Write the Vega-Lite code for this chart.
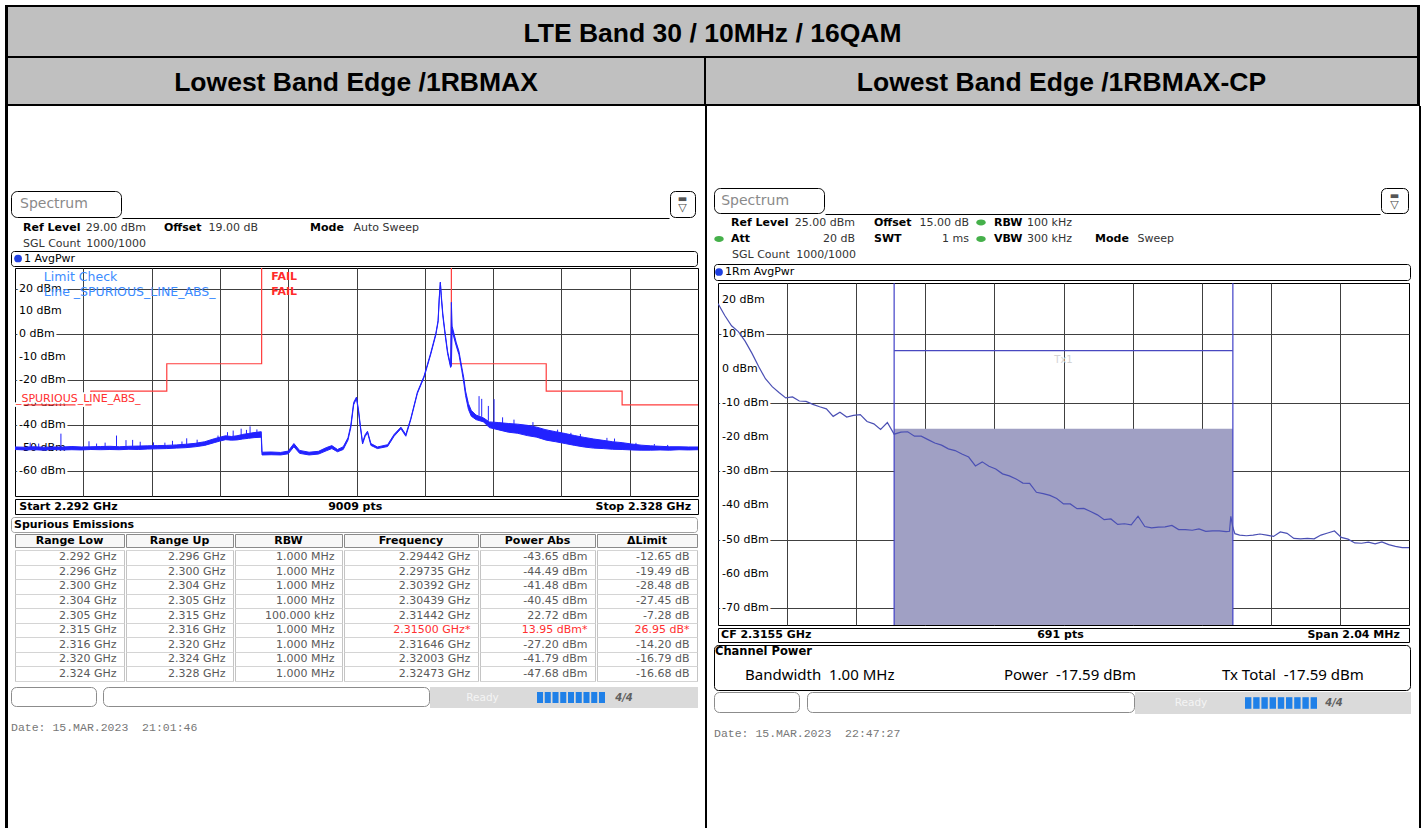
{
"$schema": "https://vega.github.io/schema/vega-lite/v6.json",
"padding": {"left": 5, "top": 5, "right": 0, "bottom": 0},
"background": "#ffffff",
"config": {"view": {"stroke": null}, "concat": {"spacing": 0}, "text": {"font": "DejaVu Sans", "fontSize": 11, "color": "#000000"}},
"datasets": {
"none": [],
"one": [{}],
"seg": [{"s":1},{"s":2},{"s":3},{"s":4},{"s":5},{"s":6},{"s":7},{"s":8},{"s":9}],
"spur": [
{"low":"2.292 GHz","up":"2.296 GHz","rbw":"1.000 MHz","freq":"2.29442 GHz","pwr":"-43.65 dBm","dlim":"-12.65 dB","d":-12.65},
{"low":"2.296 GHz","up":"2.300 GHz","rbw":"1.000 MHz","freq":"2.29735 GHz","pwr":"-44.49 dBm","dlim":"-19.49 dB","d":-19.49},
{"low":"2.300 GHz","up":"2.304 GHz","rbw":"1.000 MHz","freq":"2.30392 GHz","pwr":"-41.48 dBm","dlim":"-28.48 dB","d":-28.48},
{"low":"2.304 GHz","up":"2.305 GHz","rbw":"1.000 MHz","freq":"2.30439 GHz","pwr":"-40.45 dBm","dlim":"-27.45 dB","d":-27.45},
{"low":"2.305 GHz","up":"2.315 GHz","rbw":"100.000 kHz","freq":"2.31442 GHz","pwr":"22.72 dBm","dlim":"-7.28 dB","d":-7.28},
{"low":"2.315 GHz","up":"2.316 GHz","rbw":"1.000 MHz","freq":"2.31500 GHz*","pwr":"13.95 dBm*","dlim":"26.95 dB*","d":26.95},
{"low":"2.316 GHz","up":"2.320 GHz","rbw":"1.000 MHz","freq":"2.31646 GHz","pwr":"-27.20 dBm","dlim":"-14.20 dB","d":-14.20},
{"low":"2.320 GHz","up":"2.324 GHz","rbw":"1.000 MHz","freq":"2.32003 GHz","pwr":"-41.79 dBm","dlim":"-16.79 dB","d":-16.79},
{"low":"2.324 GHz","up":"2.328 GHz","rbw":"1.000 MHz","freq":"2.32473 GHz","pwr":"-47.68 dBm","dlim":"-16.68 dB","d":-16.68}
],
"limL": [{"f":2292,"lim":-31},{"f":2296,"lim":-25},{"f":2300,"lim":-13},{"f":2305,"lim":30},{"f":2315,"lim":-13},{"f":2320,"lim":-25},{"f":2324,"lim":-31},{"f":2328,"lim":-31}],
"lvlL": [{"lvl":20,"txt":"20 dBm"},{"lvl":10,"txt":"10 dBm"},{"lvl":0,"txt":"0 dBm"},{"lvl":-10,"txt":"-10 dBm"},{"lvl":-20,"txt":"-20 dBm"},{"lvl":-30,"txt":"-30 dBm"},{"lvl":-40,"txt":"-40 dBm"},{"lvl":-50,"txt":"-50 dBm"},{"lvl":-60,"txt":"-60 dBm"}],
"lvlR": [{"lvl":20,"txt":"20 dBm"},{"lvl":10,"txt":"10 dBm"},{"lvl":0,"txt":"0 dBm"},{"lvl":-10,"txt":"-10 dBm"},{"lvl":-20,"txt":"-20 dBm"},{"lvl":-30,"txt":"-30 dBm"},{"lvl":-40,"txt":"-40 dBm"},{"lvl":-50,"txt":"-50 dBm"},{"lvl":-60,"txt":"-60 dBm"},{"lvl":-70,"txt":"-70 dBm"}],
"traceL": [
{"f":2292.0,"lo":-50.6,"hi":-49.5},{"f":2292.5,"lo":-50.8,"hi":-49.6},{"f":2293.0,"lo":-50.7,"hi":-49.4},{"f":2293.5,"lo":-50.9,"hi":-49.6},
{"f":2294.0,"lo":-50.6,"hi":-49.5},{"f":2294.5,"lo":-50.8,"hi":-49.5},{"f":2295.0,"lo":-50.7,"hi":-49.3},{"f":2295.5,"lo":-50.8,"hi":-49.5},
{"f":2296.0,"lo":-50.6,"hi":-49.4},{"f":2296.5,"lo":-50.7,"hi":-49.3},{"f":2297.0,"lo":-50.6,"hi":-49.2},{"f":2297.5,"lo":-50.7,"hi":-49.4},
{"f":2298.0,"lo":-50.5,"hi":-49.2},{"f":2298.5,"lo":-50.6,"hi":-49.1},{"f":2299.0,"lo":-50.4,"hi":-49.0},{"f":2299.5,"lo":-50.3,"hi":-48.9},
{"f":2300.0,"lo":-50.2,"hi":-48.8},{"f":2300.5,"lo":-50.0,"hi":-48.6},{"f":2301.0,"lo":-49.8,"hi":-48.3},{"f":2301.5,"lo":-49.4,"hi":-47.9},
{"f":2302.0,"lo":-48.8,"hi":-47.2},{"f":2302.5,"lo":-47.6,"hi":-45.9},{"f":2302.8,"lo":-46.9,"hi":-45.2},{"f":2303.1,"lo":-46.3,"hi":-44.6},
{"f":2303.4,"lo":-46.5,"hi":-44.9},{"f":2303.7,"lo":-46.4,"hi":-44.6},{"f":2304.0,"lo":-46.0,"hi":-44.0},{"f":2304.3,"lo":-45.7,"hi":-43.6},
{"f":2304.6,"lo":-45.4,"hi":-43.2},{"f":2304.98,"lo":-45.2,"hi":-42.8},{"f":2305.02,"lo":-53.0,"hi":-51.8},{"f":2305.5,"lo":-52.9,"hi":-51.7},
{"f":2306.0,"lo":-53.0,"hi":-51.9},{"f":2306.4,"lo":-52.5,"hi":-51.3},{"f":2306.7,"lo":-49.4,"hi":-48.0},{"f":2307.0,"lo":-52.3,"hi":-51.0},
{"f":2307.5,"lo":-53.0,"hi":-51.8},{"f":2308.0,"lo":-52.6,"hi":-51.4},{"f":2308.4,"lo":-51.2,"hi":-49.8},{"f":2308.7,"lo":-50.2,"hi":-48.9},
{"f":2309.0,"lo":-51.6,"hi":-50.6},{"f":2309.3,"lo":-50.6,"hi":-49.4},{"f":2309.55,"lo":-46.5,"hi":-45.5},{"f":2309.7,"lo":-41.0,"hi":-40.0},
{"f":2309.85,"lo":-31.0,"hi":-30.0},{"f":2310.0,"lo":-28.2,"hi":-27.6},{"f":2310.12,"lo":-35.0,"hi":-34.0},{"f":2310.2,"lo":-40.5,"hi":-40.0},
{"f":2310.32,"lo":-48.2,"hi":-47.5},{"f":2310.45,"lo":-45.0,"hi":-44.2},{"f":2310.58,"lo":-43.2,"hi":-42.6},{"f":2310.76,"lo":-48.8,"hi":-48.0},
{"f":2311.1,"lo":-50.2,"hi":-49.5},{"f":2311.64,"lo":-49.3,"hi":-48.5},{"f":2311.98,"lo":-44.8,"hi":-44.0},{"f":2312.34,"lo":-41.5,"hi":-40.8},
{"f":2312.6,"lo":-44.8,"hi":-44.0},{"f":2312.86,"lo":-37.6,"hi":-37.0},{"f":2313.21,"lo":-26.0,"hi":-25.4},{"f":2313.56,"lo":-19.0,"hi":-18.4},
{"f":2313.91,"lo":-9.0,"hi":-8.3},{"f":2314.18,"lo":-0.4,"hi":0.3},{"f":2314.3,"lo":5.3,"hi":6.0},{"f":2314.36,"lo":15.0,"hi":16.0},
{"f":2314.42,"lo":22.72,"hi":22.72},{"f":2314.47,"lo":16.0,"hi":17.0},{"f":2314.55,"lo":8.0,"hi":9.0},{"f":2314.65,"lo":1.0,"hi":2.0},
{"f":2314.8,"lo":-8.5,"hi":-7.5},{"f":2314.96,"lo":-14.6,"hi":-13.8},{"f":2315.0,"lo":-14.0,"hi":13.95},{"f":2315.04,"lo":1.5,"hi":3.5},
{"f":2315.25,"lo":-5.0,"hi":-3.5},{"f":2315.4,"lo":-9.0,"hi":-7.5},{"f":2315.55,"lo":-16.0,"hi":-14.5},{"f":2315.65,"lo":-21.0,"hi":-19.0},
{"f":2315.75,"lo":-27.0,"hi":-25.0},{"f":2315.9,"lo":-33.0,"hi":-30.5},{"f":2316.05,"lo":-36.0,"hi":-33.5},{"f":2316.3,"lo":-37.5,"hi":-35.5},
{"f":2316.7,"lo":-38.5,"hi":-36.8},{"f":2317.0,"lo":-41.0,"hi":-38.5},{"f":2317.5,"lo":-42.0,"hi":-38.8},{"f":2318.0,"lo":-43.0,"hi":-39.2},
{"f":2318.5,"lo":-43.5,"hi":-39.5},{"f":2319.0,"lo":-44.5,"hi":-40.0},{"f":2319.5,"lo":-45.2,"hi":-40.8},{"f":2320.0,"lo":-46.5,"hi":-42.0},
{"f":2320.5,"lo":-47.2,"hi":-42.8},{"f":2321.0,"lo":-48.0,"hi":-43.6},{"f":2321.5,"lo":-48.8,"hi":-44.5},{"f":2322.0,"lo":-49.5,"hi":-45.3},
{"f":2322.5,"lo":-50.0,"hi":-46.0},{"f":2323.0,"lo":-50.2,"hi":-46.6},{"f":2323.5,"lo":-50.5,"hi":-47.2},{"f":2324.0,"lo":-50.6,"hi":-47.6},
{"f":2324.5,"lo":-50.8,"hi":-48.2},{"f":2325.0,"lo":-50.9,"hi":-48.7},{"f":2325.5,"lo":-50.9,"hi":-49.0},{"f":2326.0,"lo":-50.8,"hi":-49.2},
{"f":2326.5,"lo":-50.9,"hi":-49.4},{"f":2327.0,"lo":-50.7,"hi":-49.4},{"f":2327.5,"lo":-50.8,"hi":-49.5},{"f":2328.0,"lo":-50.7,"hi":-49.5}
],
"spikesL": [
{"f":2292.8,"peak":-47.6,"base":-49.5},{"f":2293.25,"peak":-48.0,"base":-49.5},{"f":2294.42,"peak":-43.65,"base":-49.5},{"f":2295.9,"peak":-47.0,"base":-49.4},
{"f":2296.3,"peak":-48.0,"base":-49.4},{"f":2296.75,"peak":-47.6,"base":-49.3},{"f":2297.35,"peak":-44.49,"base":-49.3},{"f":2297.85,"peak":-46.5,"base":-49.3},
{"f":2298.2,"peak":-46.4,"base":-49.2},{"f":2298.6,"peak":-47.2,"base":-49.1},{"f":2299.3,"peak":-47.5,"base":-49.0},{"f":2299.9,"peak":-47.6,"base":-48.9},
{"f":2300.3,"peak":-46.8,"base":-48.7},{"f":2300.8,"peak":-47.1,"base":-48.5},{"f":2301.05,"peak":-45.7,"base":-48.3},{"f":2301.6,"peak":-46.3,"base":-47.8},
{"f":2302.7,"peak":-44.5,"base":-45.5},{"f":2303.2,"peak":-43.0,"base":-44.6},{"f":2303.5,"peak":-42.3,"base":-44.8},{"f":2303.92,"peak":-41.48,"base":-44.2},
{"f":2304.2,"peak":-42.0,"base":-43.8},{"f":2304.39,"peak":-40.45,"base":-43.5},{"f":2304.75,"peak":-41.8,"base":-43.1},
{"f":2316.46,"peak":-27.2,"base":-35.8},{"f":2316.6,"peak":-28.4,"base":-36.3},{"f":2316.95,"peak":-31.5,"base":-38.0},{"f":2317.25,"peak":-28.5,"base":-38.6},
{"f":2317.7,"peak":-36.5,"base":-39.0},{"f":2318.3,"peak":-37.5,"base":-39.4},{"f":2319.3,"peak":-38.6,"base":-40.4},{"f":2320.03,"peak":-41.79,"base":-42.0},
{"f":2320.6,"peak":-41.9,"base":-43.0},{"f":2321.3,"peak":-43.3,"base":-44.2},{"f":2321.8,"peak":-43.8,"base":-45.0},{"f":2323.2,"peak":-45.5,"base":-46.8},
{"f":2323.6,"peak":-45.8,"base":-47.2},{"f":2324.73,"peak":-47.68,"base":-48.4},{"f":2325.7,"peak":-48.2,"base":-49.0},{"f":2326.4,"peak":-48.6,"base":-49.4}
],
"traceR": [
{"f":2314.48,"p":19},{"f":2314.5,"p":15.5},{"f":2314.52,"p":12.5},{"f":2314.54,"p":10.8},{"f":2314.56,"p":8},{"f":2314.58,"p":4.5},{"f":2314.6,"p":0.6},
{"f":2314.62,"p":-3},{"f":2314.64,"p":-5.3},{"f":2314.66,"p":-7},{"f":2314.68,"p":-8.6},{"f":2314.7,"p":-8.3},{"f":2314.72,"p":-9.5},{"f":2314.74,"p":-9.6},
{"f":2314.76,"p":-10.5},{"f":2314.78,"p":-11.2},{"f":2314.8,"p":-11.8},{"f":2314.82,"p":-14},{"f":2314.84,"p":-12.8},{"f":2314.86,"p":-14.2},{"f":2314.88,"p":-13.7},
{"f":2314.9,"p":-13.5},{"f":2314.92,"p":-15.5},{"f":2314.94,"p":-16.2},{"f":2314.96,"p":-17.8},{"f":2314.98,"p":-15.8},{"f":2315.0,"p":-19.2},{"f":2315.02,"p":-18.6},
{"f":2315.04,"p":-18.5},{"f":2315.06,"p":-19.8},{"f":2315.08,"p":-19.8},{"f":2315.1,"p":-20.8},{"f":2315.12,"p":-21.8},{"f":2315.14,"p":-22.4},{"f":2315.16,"p":-23.5},
{"f":2315.18,"p":-24},{"f":2315.2,"p":-25},{"f":2315.22,"p":-25.9},{"f":2315.24,"p":-28.5},{"f":2315.26,"p":-27.3},{"f":2315.28,"p":-28.6},{"f":2315.3,"p":-29.4},
{"f":2315.32,"p":-30.8},{"f":2315.34,"p":-31.4},{"f":2315.36,"p":-32.3},{"f":2315.38,"p":-33.5},{"f":2315.4,"p":-33.6},{"f":2315.42,"p":-36.2},{"f":2315.44,"p":-36.6},
{"f":2315.46,"p":-37.1},{"f":2315.48,"p":-38},{"f":2315.5,"p":-39.6},{"f":2315.52,"p":-39.6},{"f":2315.54,"p":-41},{"f":2315.56,"p":-40.9},{"f":2315.58,"p":-41.8},
{"f":2315.6,"p":-42.8},{"f":2315.62,"p":-44.2},{"f":2315.64,"p":-44},{"f":2315.66,"p":-45.6},{"f":2315.68,"p":-45.4},{"f":2315.7,"p":-45.7},{"f":2315.72,"p":-43.2},
{"f":2315.74,"p":-46.2},{"f":2315.76,"p":-46.6},{"f":2315.78,"p":-46.4},{"f":2315.8,"p":-46.3},{"f":2315.82,"p":-45.9},{"f":2315.84,"p":-47.1},{"f":2315.86,"p":-47.1},
{"f":2315.88,"p":-47.3},{"f":2315.9,"p":-46.9},{"f":2315.92,"p":-47.6},{"f":2315.94,"p":-47.5},{"f":2315.96,"p":-47.5},{"f":2315.98,"p":-47.7},{"f":2315.99,"p":-47.6},
{"f":2315.994,"p":-43.2},{"f":2316.0,"p":-46.5},{"f":2316.006,"p":-48.3},{"f":2316.02,"p":-48.7},{"f":2316.04,"p":-48.9},{"f":2316.06,"p":-48.7},{"f":2316.08,"p":-48.4},
{"f":2316.1,"p":-48.7},{"f":2316.12,"p":-49.1},{"f":2316.14,"p":-47.8},{"f":2316.16,"p":-48.2},{"f":2316.18,"p":-49.7},{"f":2316.2,"p":-49.8},{"f":2316.22,"p":-49.7},
{"f":2316.24,"p":-49.8},{"f":2316.26,"p":-48.7},{"f":2316.28,"p":-48.1},{"f":2316.3,"p":-47.5},{"f":2316.32,"p":-49.4},{"f":2316.34,"p":-49.9},{"f":2316.36,"p":-51},
{"f":2316.38,"p":-51.1},{"f":2316.4,"p":-50.8},{"f":2316.42,"p":-51.3},{"f":2316.44,"p":-50.7},{"f":2316.46,"p":-51.5},{"f":2316.48,"p":-52},{"f":2316.5,"p":-52.4},
{"f":2316.52,"p":-52.4}
],
"chan": [{"lo":2315.0,"hi":2316.0,"power":-17.59}],
"cp": [
{"line":"title","k":"title","t":"Channel Power"},
{"line":"vals","k":"bw","t":"Bandwidth\u00a0\u00a01.00 MHz"},
{"line":"vals","k":"pw","t":"Power\u00a0\u00a0-17.59 dBm"},
{"line":"vals","k":"tx","t":"Tx Total\u00a0\u00a0-17.59 dBm"}
]
},
"spacing": 0,
"vconcat": [
{"width":1415,"height":2,"data":{"name":"none"},"view":{"fill":"#000"},"mark":{"type":"text","text":""}},
{"spacing":0,"hconcat":[
 {"width":3,"height":49,"data":{"name":"none"},"view":{"fill":"#000"},"mark":{"type":"text","text":""}},
 {"width":1409,"height":49,"view":{"fill":"#c0c0c0"},"data":{"values":[{"t":"LTE Band 30 / 10MHz / 16QAM"}]},"mark":{"type":"text","font":"Liberation Sans","fontSize":26.5,"fontWeight":"bold","dy":2},"encoding":{"text":{"field":"t"}}},
 {"width":3,"height":49,"data":{"name":"none"},"view":{"fill":"#000"},"mark":{"type":"text","text":""}}
]},
{"width":1415,"height":2,"data":{"name":"none"},"view":{"fill":"#000"},"mark":{"type":"text","text":""}},
{"spacing":0,"hconcat":[
 {"width":3,"height":46,"data":{"name":"none"},"view":{"fill":"#000"},"mark":{"type":"text","text":""}},
 {"width":696,"height":46,"view":{"fill":"#c0c0c0"},"data":{"values":[{"t":"Lowest Band Edge /1RBMAX"}]},"mark":{"type":"text","font":"Liberation Sans","fontSize":26.5,"fontWeight":"bold","dy":2},"encoding":{"text":{"field":"t"}}},
 {"width":2,"height":46,"data":{"name":"none"},"view":{"fill":"#000"},"mark":{"type":"text","text":""}},
 {"width":711,"height":46,"view":{"fill":"#c0c0c0"},"data":{"values":[{"t":"Lowest Band Edge /1RBMAX-CP"}]},"mark":{"type":"text","font":"Liberation Sans","fontSize":26.5,"fontWeight":"bold","dy":2},"encoding":{"text":{"field":"t"}}},
 {"width":3,"height":46,"data":{"name":"none"},"view":{"fill":"#000"},"mark":{"type":"text","text":""}}
]},
{"width":1415,"height":2,"data":{"name":"none"},"view":{"fill":"#000"},"mark":{"type":"text","text":""}},
{"spacing":0,"hconcat":[
 {"width":3,"height":722,"data":{"name":"none"},"view":{"fill":"#000"},"mark":{"type":"text","text":""}},
 {"spacing":0,"hconcat":[
  {"width":2,"height":722,"data":{"name":"none"},"mark":{"type":"text","text":""}},
  {"spacing":0,"vconcat":[
   {"width":688,"height":84,"data":{"name":"none"},"mark":{"type":"text","text":""}},
   {"spacing":0,"hconcat":[
    {"width":110,"height":26,"view":{"stroke":"#000","strokeWidth":1,"cornerRadius":6},"data":{"values":[{"p":"L","t":"Spectrum"}]},"mark":{"type":"text","align":"left","fontSize":14,"color":"#8a8a8a"},"encoding":{"x":{"field":"p","type":"nominal","scale":{"type":"point","domain":["L","R"],"padding":0.0978},"axis":null},"text":{"field":"t"}}},
    {"width":547,"height":27,"data":{"name":"none"},"mark":{"type":"text","text":""},"encoding":{"x":{"datum":0,"type":"quantitative","title":null,"scale":{"domain":[0,1]},"axis":{"orient":"bottom","domain":true,"domainColor":"#000","domainWidth":1,"labels":false,"ticks":false,"grid":false,"title":null}}}},
    {"width":25,"height":26,"data":{"name":"one"},"view":{"stroke":"#000","strokeWidth":1,"cornerRadius":5},"layer":[{"mark":{"type":"text","text":"▽","fontSize":11,"dy":4,"color":"#444"}},{"mark":{"type":"text","text":"▬","fontSize":10,"dy":-5,"color":"#555"}}]}
   ]},
   {"spacing":0,"hconcat":[
    {"width":12,"height":19,"data":{"name":"none"},"mark":{"type":"text","text":""}},
    {"width":123,"height":19,"data":{"values":[{"p":"L","t":"Ref Level"},{"p":"R","t":"29.00 dBm"}]},"encoding":{"x":{"field":"p","type":"nominal","scale":{"type":"point","domain":["L","R"],"padding":0},"axis":null},"text":{"field":"t"}},"layer":[{"transform":[{"filter":"datum.p==='L'"}],"mark":{"type":"text","align":"left","fontWeight":"bold"}},{"transform":[{"filter":"datum.p==='R'"}],"mark":{"type":"text","align":"right","color":"#333"}}]},
    {"width":18,"height":19,"data":{"name":"none"},"mark":{"type":"text","text":""}},
    {"width":94,"height":19,"data":{"values":[{"p":"L","t":"Offset"},{"p":"R","t":"19.00 dB"}]},"encoding":{"x":{"field":"p","type":"nominal","scale":{"type":"point","domain":["L","R"],"padding":0},"axis":null},"text":{"field":"t"}},"layer":[{"transform":[{"filter":"datum.p==='L'"}],"mark":{"type":"text","align":"left","fontWeight":"bold"}},{"transform":[{"filter":"datum.p==='R'"}],"mark":{"type":"text","align":"right","color":"#333"}}]},
    {"width":52,"height":19,"data":{"name":"none"},"mark":{"type":"text","text":""}},
    {"width":109,"height":19,"data":{"values":[{"p":"L","t":"Mode"},{"p":"R","t":"Auto Sweep"}]},"encoding":{"x":{"field":"p","type":"nominal","scale":{"type":"point","domain":["L","R"],"padding":0},"axis":null},"text":{"field":"t"}},"layer":[{"transform":[{"filter":"datum.p==='L'"}],"mark":{"type":"text","align":"left","fontWeight":"bold"}},{"transform":[{"filter":"datum.p==='R'"}],"mark":{"type":"text","align":"right","color":"#333"}}]},
    {"width":280,"height":19,"data":{"name":"none"},"mark":{"type":"text","text":""}}
   ]},
   {"spacing":0,"hconcat":[
    {"width":12,"height":13,"data":{"name":"none"},"mark":{"type":"text","text":""}},
    {"width":123,"height":13,"data":{"values":[{"p":"L","t":"SGL Count"},{"p":"R","t":"1000/1000"}]},"encoding":{"x":{"field":"p","type":"nominal","scale":{"type":"point","domain":["L","R"],"padding":0},"axis":null},"text":{"field":"t"}},"layer":[{"transform":[{"filter":"datum.p==='L'"}],"mark":{"type":"text","align":"left","color":"#333"}},{"transform":[{"filter":"datum.p==='R'"}],"mark":{"type":"text","align":"right","color":"#333"}}]},
    {"width":553,"height":13,"data":{"name":"none"},"mark":{"type":"text","text":""}}
   ]},
   {"width":686,"height":15,"view":{"stroke":"#000","strokeWidth":1,"cornerRadius":3},"data":{"values":[{"p":"L","t":"1 AvgPwr"}]},"encoding":{"x":{"field":"p","type":"nominal","scale":{"type":"point","domain":["L","R"],"padding":0.0105},"axis":null}},"layer":[{"mark":{"type":"point","shape":"circle","size":60,"color":"#1f3fe0","filled":true,"opacity":1}},{"mark":{"type":"text","align":"left","dx":6},"encoding":{"text":{"field":"t"}}}]},
   {"spacing":0,"hconcat":[
    {"width":3,"height":230,"data":{"name":"none"},"mark":{"type":"text","text":""}},
    {"width":683,"height":228,"view":{"stroke":"#000","strokeWidth":1},"layer":[
     {"data":{"name":"lvlL"},"mark":{"type":"text","align":"left","dx":4,"stroke":"#fff","strokeWidth":5,"strokeJoin":"round","color":"#fff"},"encoding":{"x":{"datum":2292,"type":"quantitative","title":null,"scale":{"domain":[2292,2328],"nice":false,"zero":false}},"y":{"field":"lvl","type":"quantitative","title":null,"scale":{"domain":[-71,29],"nice":false,"zero":false}},"text":{"field":"txt"}}},
     {"data":{"name":"lvlL"},"mark":{"type":"text","align":"left","dx":4,"color":"#000"},"encoding":{"x":{"datum":2292,"type":"quantitative","title":null,"scale":{"domain":[2292,2328],"nice":false,"zero":false}},"y":{"field":"lvl","type":"quantitative","title":null,"scale":{"domain":[-71,29],"nice":false,"zero":false}},"text":{"field":"txt"}}},
     {"data":{"name":"limL"},"mark":{"type":"line","interpolate":"step-after","color":"#ff3c3c","strokeWidth":1.2,"clip":true},"encoding":{"x":{"field":"f","type":"quantitative","title":null,"scale":{"domain":[2292,2328],"nice":false,"zero":false}},"y":{"field":"lim","type":"quantitative","title":null,"scale":{"domain":[-71,29],"nice":false,"zero":false}}}},
     {"data":{"name":"one"},"mark":{"type":"text","align":"left","stroke":"#fff","strokeWidth":4,"strokeJoin":"round","color":"#fff","text":"_SPURIOUS_LINE_ABS_"},"encoding":{"x":{"datum":2292.05,"type":"quantitative","title":null,"scale":{"domain":[2292,2328],"nice":false,"zero":false}},"y":{"datum":-28.4,"type":"quantitative","title":null,"scale":{"domain":[-71,29],"nice":false,"zero":false}}}},
     {"data":{"name":"one"},"mark":{"type":"text","align":"left","color":"#ff3030","text":"_SPURIOUS_LINE_ABS_"},"encoding":{"x":{"datum":2292.05,"type":"quantitative","title":null,"scale":{"domain":[2292,2328],"nice":false,"zero":false}},"y":{"datum":-28.4,"type":"quantitative","title":null,"scale":{"domain":[-71,29],"nice":false,"zero":false}}}},
     {"data":{"name":"traceL"},"mark":{"type":"area","color":"#2222ff","clip":true},"encoding":{"x":{"field":"f","type":"quantitative","title":null,"scale":{"domain":[2292,2328],"nice":false,"zero":false},"axis":{"values":[2295.6,2299.2,2302.8,2306.4,2310,2313.6,2317.2,2320.8,2324.4],"grid":true,"gridColor":"#404040","gridWidth":1,"labels":false,"ticks":false,"domain":false,"title":null}},"y":{"field":"hi","type":"quantitative","title":null,"scale":{"domain":[-71,29],"nice":false,"zero":false},"axis":{"values":[-60,-50,-40,-30,-20,-10,0,10,20],"grid":true,"gridColor":"#404040","gridWidth":1,"labels":false,"ticks":false,"domain":false,"title":null}},"y2":{"field":"lo"}}},
     {"data":{"name":"traceL"},"mark":{"type":"line","color":"#2222ff","strokeWidth":1,"clip":true},"encoding":{"x":{"field":"f","type":"quantitative","title":null,"scale":{"domain":[2292,2328],"nice":false,"zero":false}},"y":{"field":"hi","type":"quantitative","title":null,"scale":{"domain":[-71,29],"nice":false,"zero":false}}}},
     {"data":{"name":"traceL"},"mark":{"type":"line","color":"#2222ff","strokeWidth":1,"clip":true},"encoding":{"x":{"field":"f","type":"quantitative","title":null,"scale":{"domain":[2292,2328],"nice":false,"zero":false}},"y":{"field":"lo","type":"quantitative","title":null,"scale":{"domain":[-71,29],"nice":false,"zero":false}}}},
     {"data":{"name":"spikesL"},"mark":{"type":"rule","color":"#2222ff","strokeWidth":1,"clip":true},"encoding":{"x":{"field":"f","type":"quantitative","title":null,"scale":{"domain":[2292,2328],"nice":false,"zero":false}},"y":{"field":"peak","type":"quantitative","title":null,"scale":{"domain":[-71,29],"nice":false,"zero":false}},"y2":{"field":"base"}}},
     {"data":{"name":"one"},"mark":{"type":"text","align":"left","color":"#3c8cff","fontSize":12.5,"text":"Limit Check"},"encoding":{"x":{"datum":2293.52,"type":"quantitative","title":null,"scale":{"domain":[2292,2328],"nice":false,"zero":false}},"y":{"datum":25.2,"type":"quantitative","title":null,"scale":{"domain":[-71,29],"nice":false,"zero":false}}}},
     {"data":{"name":"one"},"mark":{"type":"text","align":"left","color":"#3c8cff","fontSize":12.5,"text":"Line _SPURIOUS_LINE_ABS_"},"encoding":{"x":{"datum":2293.52,"type":"quantitative","title":null,"scale":{"domain":[2292,2328],"nice":false,"zero":false}},"y":{"datum":18.3,"type":"quantitative","title":null,"scale":{"domain":[-71,29],"nice":false,"zero":false}}}},
     {"data":{"name":"one"},"mark":{"type":"text","align":"left","color":"#ff2a2a","fontWeight":"bold","text":"FAIL"},"encoding":{"x":{"datum":2305.5,"type":"quantitative","title":null,"scale":{"domain":[2292,2328],"nice":false,"zero":false}},"y":{"datum":25.2,"type":"quantitative","title":null,"scale":{"domain":[-71,29],"nice":false,"zero":false}}}},
     {"data":{"name":"one"},"mark":{"type":"text","align":"left","color":"#ff2a2a","fontWeight":"bold","text":"FAIL"},"encoding":{"x":{"datum":2305.5,"type":"quantitative","title":null,"scale":{"domain":[2292,2328],"nice":false,"zero":false}},"y":{"datum":18.3,"type":"quantitative","title":null,"scale":{"domain":[-71,29],"nice":false,"zero":false}}}}
    ]}
   ]},
   {"spacing":0,"hconcat":[
    {"width":3,"height":17,"data":{"name":"none"},"mark":{"type":"text","text":""}},
    {"width":683,"height":15,"view":{"stroke":"#000","strokeWidth":1},"data":{"values":[{"p":"L","t":"Start 2.292 GHz"},{"p":"C","t":"9009 pts"},{"p":"R","t":"Stop 2.328 GHz"}]},"encoding":{"x":{"field":"p","type":"nominal","scale":{"type":"point","domain":["L","C","R"],"padding":0.0164,"align":0.385},"axis":null},"text":{"field":"t"}},"layer":[{"transform":[{"filter":"datum.p==='L'"}],"mark":{"type":"text","align":"left","fontWeight":"bold"}},{"transform":[{"filter":"datum.p==='C'"}],"mark":{"type":"text","align":"center","fontWeight":"bold"}},{"transform":[{"filter":"datum.p==='R'"}],"mark":{"type":"text","align":"right","fontWeight":"bold"}}]}
   ]},
   {"width":686,"height":15,"view":{"stroke":"#a0a0a0","strokeWidth":1,"cornerRadius":3},"data":{"values":[{"p":"L","t":"Spurious Emissions"}]},"mark":{"type":"text","align":"left","fontWeight":"bold"},"encoding":{"x":{"field":"p","type":"nominal","scale":{"type":"point","domain":["L","R"],"padding":0.0044},"axis":null},"text":{"field":"t"}}},
   {"spacing":0,"hconcat":[
    {"width":3,"height":15,"data":{"name":"none"},"mark":{"type":"text","text":""}},
    {"width":109,"height":13,"data":{"values":[{"t":"Range Low"}]},"view":{"stroke":"#8a8a8a","strokeWidth":1,"fill":"#f7f7f7"},"mark":{"type":"text","fontWeight":"bold"},"encoding":{"text":{"field":"t"}}},
    {"width":107,"height":13,"data":{"values":[{"t":"Range Up"}]},"view":{"stroke":"#8a8a8a","strokeWidth":1,"fill":"#f7f7f7"},"mark":{"type":"text","fontWeight":"bold"},"encoding":{"text":{"field":"t"}}},
    {"width":107,"height":13,"data":{"values":[{"t":"RBW"}]},"view":{"stroke":"#8a8a8a","strokeWidth":1,"fill":"#f7f7f7"},"mark":{"type":"text","fontWeight":"bold"},"encoding":{"text":{"field":"t"}}},
    {"width":134,"height":13,"data":{"values":[{"t":"Frequency"}]},"view":{"stroke":"#8a8a8a","strokeWidth":1,"fill":"#f7f7f7"},"mark":{"type":"text","fontWeight":"bold"},"encoding":{"text":{"field":"t"}}},
    {"width":115,"height":13,"data":{"values":[{"t":"Power Abs"}]},"view":{"stroke":"#8a8a8a","strokeWidth":1,"fill":"#f7f7f7"},"mark":{"type":"text","fontWeight":"bold"},"encoding":{"text":{"field":"t"}}},
    {"width":100,"height":13,"data":{"values":[{"t":"ΔLimit"}]},"view":{"stroke":"#8a8a8a","strokeWidth":1,"fill":"#f7f7f7"},"mark":{"type":"text","fontWeight":"bold"},"encoding":{"text":{"field":"t"}}},
    {"width":1,"height":15,"data":{"name":"none"},"mark":{"type":"text","text":""}}
   ]},
   {"spacing":0,"hconcat":[
    {"width":3,"height":133,"data":{"name":"none"},"mark":{"type":"text","text":""}},
    {"width":109,"height":131,"data":{"name":"spur"},"view":{"stroke":"#c4c4c4","strokeWidth":1},"mark":{"type":"text","align":"right","color":"#5a5a5a"},"encoding":{"x":{"datum":"R","type":"nominal","scale":{"type":"point","domain":["L","R"],"padding":0.08},"axis":null},"y":{"field":"low","type":"ordinal","sort":null,"title":null,"scale":{"type":"band","paddingInner":0,"paddingOuter":0},"axis":{"grid":true,"gridColor":"#d4d4d4","tickBand":"extent","labels":false,"ticks":false,"domain":false,"title":null}},"text":{"field":"low"}}},
    {"width":107,"height":131,"data":{"name":"spur"},"view":{"stroke":"#c4c4c4","strokeWidth":1},"mark":{"type":"text","align":"right","color":"#5a5a5a"},"encoding":{"x":{"datum":"R","type":"nominal","scale":{"type":"point","domain":["L","R"],"padding":0.082},"axis":null},"y":{"field":"low","type":"ordinal","sort":null,"title":null,"scale":{"type":"band","paddingInner":0,"paddingOuter":0},"axis":{"grid":true,"gridColor":"#d4d4d4","tickBand":"extent","labels":false,"ticks":false,"domain":false,"title":null}},"text":{"field":"up"}}},
    {"width":107,"height":131,"data":{"name":"spur"},"view":{"stroke":"#c4c4c4","strokeWidth":1},"mark":{"type":"text","align":"right","color":"#5a5a5a"},"encoding":{"x":{"datum":"R","type":"nominal","scale":{"type":"point","domain":["L","R"],"padding":0.082},"axis":null},"y":{"field":"low","type":"ordinal","sort":null,"title":null,"scale":{"type":"band","paddingInner":0,"paddingOuter":0},"axis":{"grid":true,"gridColor":"#d4d4d4","tickBand":"extent","labels":false,"ticks":false,"domain":false,"title":null}},"text":{"field":"rbw"}}},
    {"width":134,"height":131,"data":{"name":"spur"},"view":{"stroke":"#c4c4c4","strokeWidth":1},"mark":{"type":"text","align":"right"},"encoding":{"x":{"datum":"R","type":"nominal","scale":{"type":"point","domain":["L","R"],"padding":0.064},"axis":null},"y":{"field":"low","type":"ordinal","sort":null,"title":null,"scale":{"type":"band","paddingInner":0,"paddingOuter":0},"axis":{"grid":true,"gridColor":"#d4d4d4","tickBand":"extent","labels":false,"ticks":false,"domain":false,"title":null}},"text":{"field":"freq"},"color":{"condition":{"test":"datum.d > 0","value":"#ff3030"},"value":"#5a5a5a"}}},
    {"width":115,"height":131,"data":{"name":"spur"},"view":{"stroke":"#c4c4c4","strokeWidth":1},"mark":{"type":"text","align":"right"},"encoding":{"x":{"datum":"R","type":"nominal","scale":{"type":"point","domain":["L","R"],"padding":0.076},"axis":null},"y":{"field":"low","type":"ordinal","sort":null,"title":null,"scale":{"type":"band","paddingInner":0,"paddingOuter":0},"axis":{"grid":true,"gridColor":"#d4d4d4","tickBand":"extent","labels":false,"ticks":false,"domain":false,"title":null}},"text":{"field":"pwr"},"color":{"condition":{"test":"datum.d > 0","value":"#ff3030"},"value":"#5a5a5a"}}},
    {"width":100,"height":131,"data":{"name":"spur"},"view":{"stroke":"#c4c4c4","strokeWidth":1},"mark":{"type":"text","align":"right"},"encoding":{"x":{"datum":"R","type":"nominal","scale":{"type":"point","domain":["L","R"],"padding":0.089},"axis":null},"y":{"field":"low","type":"ordinal","sort":null,"title":null,"scale":{"type":"band","paddingInner":0,"paddingOuter":0},"axis":{"grid":true,"gridColor":"#d4d4d4","tickBand":"extent","labels":false,"ticks":false,"domain":false,"title":null}},"text":{"field":"dlim"},"color":{"condition":{"test":"datum.d > 0","value":"#ff3030"},"value":"#5a5a5a"}}},
    {"width":1,"height":133,"data":{"name":"none"},"mark":{"type":"text","text":""}}
   ]},
   {"width":688,"height":3,"data":{"name":"none"},"mark":{"type":"text","text":""}},
   {"spacing":0,"hconcat":[
    {"width":85,"height":19,"data":{"name":"none"},"view":{"stroke":"#8c8c8c","strokeWidth":1,"cornerRadius":5,"fill":"#fff"},"mark":{"type":"text","text":""}},
    {"width":5,"height":21,"data":{"name":"none"},"mark":{"type":"text","text":""}},
    {"width":326,"height":19,"data":{"name":"none"},"view":{"stroke":"#8c8c8c","strokeWidth":1,"cornerRadius":5,"fill":"#fff"},"mark":{"type":"text","text":""}},
    {"width":35,"height":21,"data":{"name":"none"},"view":{"fill":"#dadada"},"mark":{"type":"text","text":""}},
    {"width":35,"height":21,"data":{"values":[{"t":"Ready"}]},"view":{"fill":"#dadada"},"mark":{"type":"text","color":"#f4f4f4","fontSize":10.5},"encoding":{"text":{"field":"t"}}},
    {"width":37,"height":21,"data":{"name":"none"},"view":{"fill":"#dadada"},"mark":{"type":"text","text":""}},
    {"width":68,"height":21,"data":{"name":"seg"},"view":{"fill":"#dadada"},"mark":{"type":"rect","color":"#1f80e8"},"encoding":{"x":{"field":"s","type":"ordinal","title":null,"scale":{"type":"band","paddingInner":0.22,"paddingOuter":0},"axis":null},"y":{"datum":"bar","type":"nominal","title":null,"scale":{"type":"band","domain":["bar"],"paddingOuter":0.45},"axis":null}}},
    {"width":8,"height":21,"data":{"name":"none"},"view":{"fill":"#dadada"},"mark":{"type":"text","text":""}},
    {"width":22,"height":21,"data":{"values":[{"t":"4/4"}]},"view":{"fill":"#dadada"},"mark":{"type":"text","color":"#606060","fontWeight":"bold","fontStyle":"italic","fontSize":10},"encoding":{"text":{"field":"t"}}},
    {"width":63,"height":21,"data":{"name":"none"},"view":{"fill":"#dadada"},"mark":{"type":"text","text":""}}
   ]},
   {"width":688,"height":40,"data":{"values":[{"p":"L","t":"Date: 15.MAR.2023\u00a0\u00a021:01:46"}]},"mark":{"type":"text","align":"left","font":"Liberation Mono","fontSize":11.5,"color":"#777777"},"encoding":{"x":{"field":"p","type":"nominal","scale":{"type":"point","domain":["L","R"],"padding":0},"axis":null},"text":{"field":"t"}}},
   {"width":688,"height":85,"data":{"name":"none"},"mark":{"type":"text","text":""}}
  ]},
  {"width":6,"height":722,"data":{"name":"none"},"mark":{"type":"text","text":""}}
 ]},
 {"width":2,"height":722,"data":{"name":"none"},"view":{"fill":"#000"},"mark":{"type":"text","text":""}},
 {"spacing":0,"hconcat":[
  {"width":6,"height":722,"data":{"name":"none"},"mark":{"type":"text","text":""}},
  {"spacing":0,"vconcat":[
   {"width":698,"height":81,"data":{"name":"none"},"mark":{"type":"text","text":""}},
   {"spacing":0,"hconcat":[
    {"width":110,"height":25,"view":{"stroke":"#000","strokeWidth":1,"cornerRadius":6},"data":{"values":[{"p":"L","t":"Spectrum"}]},"mark":{"type":"text","align":"left","fontSize":14,"color":"#8a8a8a"},"encoding":{"x":{"field":"p","type":"nominal","scale":{"type":"point","domain":["L","R"],"padding":0.0755},"axis":null},"text":{"field":"t"}}},
    {"width":555,"height":26,"data":{"name":"none"},"mark":{"type":"text","text":""},"encoding":{"x":{"datum":0,"type":"quantitative","title":null,"scale":{"domain":[0,1]},"axis":{"orient":"bottom","domain":true,"domainColor":"#000","domainWidth":1,"labels":false,"ticks":false,"grid":false,"title":null}}}},
    {"width":27,"height":25,"data":{"name":"one"},"view":{"stroke":"#000","strokeWidth":1,"cornerRadius":5},"layer":[{"mark":{"type":"text","text":"▽","fontSize":11,"dy":4,"color":"#444"}},{"mark":{"type":"text","text":"▬","fontSize":10,"dy":-5,"color":"#555"}}]}
   ]},
   {"spacing":0,"hconcat":[
    {"width":17,"height":17,"data":{"name":"none"},"mark":{"type":"text","text":""}},
    {"width":124,"height":17,"data":{"values":[{"p":"L","t":"Ref Level"},{"p":"R","t":"25.00 dBm"}]},"encoding":{"x":{"field":"p","type":"nominal","scale":{"type":"point","domain":["L","R"],"padding":0},"axis":null},"text":{"field":"t"}},"layer":[{"transform":[{"filter":"datum.p==='L'"}],"mark":{"type":"text","align":"left","fontWeight":"bold"}},{"transform":[{"filter":"datum.p==='R'"}],"mark":{"type":"text","align":"right","color":"#333"}}]},
    {"width":19,"height":17,"data":{"name":"none"},"mark":{"type":"text","text":""}},
    {"width":95,"height":17,"data":{"values":[{"p":"L","t":"Offset"},{"p":"R","t":"15.00 dB"}]},"encoding":{"x":{"field":"p","type":"nominal","scale":{"type":"point","domain":["L","R"],"padding":0},"axis":null},"text":{"field":"t"}},"layer":[{"transform":[{"filter":"datum.p==='L'"}],"mark":{"type":"text","align":"left","fontWeight":"bold"}},{"transform":[{"filter":"datum.p==='R'"}],"mark":{"type":"text","align":"right","color":"#333"}}]},
    {"width":7,"height":17,"data":{"name":"none"},"mark":{"type":"text","text":""}},
    {"width":10,"height":17,"data":{"name":"one"},"mark":{"type":"point","shape":"M-1,0A1,0.62,0,1,0,1,0A1,0.62,0,1,0,-1,0Z","size":90,"color":"#45b04a","filled":true,"opacity":1}},
    {"width":8,"height":17,"data":{"name":"none"},"mark":{"type":"text","text":""}},
    {"width":78,"height":17,"data":{"values":[{"p":"L","t":"RBW"},{"p":"R","t":"100 kHz"}]},"encoding":{"x":{"field":"p","type":"nominal","scale":{"type":"point","domain":["L","R"],"padding":0},"axis":null},"text":{"field":"t"}},"layer":[{"transform":[{"filter":"datum.p==='L'"}],"mark":{"type":"text","align":"left","fontWeight":"bold"}},{"transform":[{"filter":"datum.p==='R'"}],"mark":{"type":"text","align":"right","color":"#333"}}]},
    {"width":340,"height":17,"data":{"name":"none"},"mark":{"type":"text","text":""}}
   ]},
   {"spacing":0,"hconcat":[
    {"width":10,"height":16,"data":{"name":"one"},"mark":{"type":"point","shape":"M-1,0A1,0.62,0,1,0,1,0A1,0.62,0,1,0,-1,0Z","size":90,"color":"#45b04a","filled":true,"opacity":1}},
    {"width":7,"height":16,"data":{"name":"none"},"mark":{"type":"text","text":""}},
    {"width":124,"height":16,"data":{"values":[{"p":"L","t":"Att"},{"p":"R","t":"20 dB"}]},"encoding":{"x":{"field":"p","type":"nominal","scale":{"type":"point","domain":["L","R"],"padding":0},"axis":null},"text":{"field":"t"}},"layer":[{"transform":[{"filter":"datum.p==='L'"}],"mark":{"type":"text","align":"left","fontWeight":"bold"}},{"transform":[{"filter":"datum.p==='R'"}],"mark":{"type":"text","align":"right","color":"#333"}}]},
    {"width":19,"height":16,"data":{"name":"none"},"mark":{"type":"text","text":""}},
    {"width":95,"height":16,"data":{"values":[{"p":"L","t":"SWT"},{"p":"R","t":"1 ms"}]},"encoding":{"x":{"field":"p","type":"nominal","scale":{"type":"point","domain":["L","R"],"padding":0},"axis":null},"text":{"field":"t"}},"layer":[{"transform":[{"filter":"datum.p==='L'"}],"mark":{"type":"text","align":"left","fontWeight":"bold"}},{"transform":[{"filter":"datum.p==='R'"}],"mark":{"type":"text","align":"right","color":"#333"}}]},
    {"width":7,"height":16,"data":{"name":"none"},"mark":{"type":"text","text":""}},
    {"width":10,"height":16,"data":{"name":"one"},"mark":{"type":"point","shape":"M-1,0A1,0.62,0,1,0,1,0A1,0.62,0,1,0,-1,0Z","size":90,"color":"#45b04a","filled":true,"opacity":1}},
    {"width":8,"height":16,"data":{"name":"none"},"mark":{"type":"text","text":""}},
    {"width":78,"height":16,"data":{"values":[{"p":"L","t":"VBW"},{"p":"R","t":"300 kHz"}]},"encoding":{"x":{"field":"p","type":"nominal","scale":{"type":"point","domain":["L","R"],"padding":0},"axis":null},"text":{"field":"t"}},"layer":[{"transform":[{"filter":"datum.p==='L'"}],"mark":{"type":"text","align":"left","fontWeight":"bold"}},{"transform":[{"filter":"datum.p==='R'"}],"mark":{"type":"text","align":"right","color":"#333"}}]},
    {"width":23,"height":16,"data":{"name":"none"},"mark":{"type":"text","text":""}},
    {"width":79,"height":16,"data":{"values":[{"p":"L","t":"Mode"},{"p":"R","t":"Sweep"}]},"encoding":{"x":{"field":"p","type":"nominal","scale":{"type":"point","domain":["L","R"],"padding":0},"axis":null},"text":{"field":"t"}},"layer":[{"transform":[{"filter":"datum.p==='L'"}],"mark":{"type":"text","align":"left","fontWeight":"bold"}},{"transform":[{"filter":"datum.p==='R'"}],"mark":{"type":"text","align":"right","color":"#333"}}]},
    {"width":238,"height":16,"data":{"name":"none"},"mark":{"type":"text","text":""}}
   ]},
   {"spacing":0,"hconcat":[
    {"width":18,"height":16,"data":{"name":"none"},"mark":{"type":"text","text":""}},
    {"width":124,"height":16,"data":{"values":[{"p":"L","t":"SGL Count"},{"p":"R","t":"1000/1000"}]},"encoding":{"x":{"field":"p","type":"nominal","scale":{"type":"point","domain":["L","R"],"padding":0},"axis":null},"text":{"field":"t"}},"layer":[{"transform":[{"filter":"datum.p==='L'"}],"mark":{"type":"text","align":"left","color":"#333"}},{"transform":[{"filter":"datum.p==='R'"}],"mark":{"type":"text","align":"right","color":"#333"}}]},
    {"width":556,"height":16,"data":{"name":"none"},"mark":{"type":"text","text":""}}
   ]},
   {"width":696,"height":16,"view":{"stroke":"#000","strokeWidth":1,"cornerRadius":3},"data":{"values":[{"p":"L","t":"1Rm AvgPwr"}]},"encoding":{"x":{"field":"p","type":"nominal","scale":{"type":"point","domain":["L","R"],"padding":0.0073},"axis":null}},"layer":[{"mark":{"type":"point","shape":"circle","size":60,"color":"#1f3fe0","filled":true,"opacity":1}},{"mark":{"type":"text","align":"left","dx":6},"encoding":{"text":{"field":"t"}}}]},
   {"spacing":0,"hconcat":[
    {"width":3,"height":344,"data":{"name":"none"},"mark":{"type":"text","text":""}},
    {"width":691,"height":342,"view":{"stroke":"#000","strokeWidth":1},"layer":[
     {"data":{"name":"chan"},"mark":{"type":"rect","color":"#a0a0c4"},"encoding":{"x":{"field":"lo","type":"quantitative","title":null,"scale":{"domain":[2314.48,2316.52],"nice":false,"zero":false},"axis":{"values":[2314.684,2314.888,2315.092,2315.296,2315.5,2315.704,2315.908,2316.112,2316.316],"grid":true,"gridColor":"#404040","gridWidth":1,"labels":false,"ticks":false,"domain":false,"title":null}},"x2":{"field":"hi"},"y":{"field":"power","type":"quantitative","title":null,"scale":{"domain":[-75,25],"nice":false,"zero":false},"axis":{"values":[-70,-60,-50,-40,-30,-20,-10,0,10,20],"grid":true,"gridColor":"#404040","gridWidth":1,"labels":false,"ticks":false,"domain":false,"title":null}},"y2":{"datum":-75}}},
     {"data":{"name":"lvlR"},"mark":{"type":"text","align":"left","dx":4,"stroke":"#fff","strokeWidth":5,"strokeJoin":"round","color":"#fff"},"encoding":{"x":{"datum":2314.48,"type":"quantitative","title":null,"scale":{"domain":[2314.48,2316.52],"nice":false,"zero":false}},"y":{"field":"lvl","type":"quantitative","title":null,"scale":{"domain":[-75,25],"nice":false,"zero":false}},"text":{"field":"txt"}}},
     {"data":{"name":"lvlR"},"mark":{"type":"text","align":"left","dx":4,"color":"#000"},"encoding":{"x":{"datum":2314.48,"type":"quantitative","title":null,"scale":{"domain":[2314.48,2316.52],"nice":false,"zero":false}},"y":{"field":"lvl","type":"quantitative","title":null,"scale":{"domain":[-75,25],"nice":false,"zero":false}},"text":{"field":"txt"}}},
     {"data":{"name":"chan"},"mark":{"type":"rule","color":"#4040c8","strokeWidth":1.2},"encoding":{"x":{"field":"lo","type":"quantitative","title":null,"scale":{"domain":[2314.48,2316.52],"nice":false,"zero":false}}}},
     {"data":{"name":"chan"},"mark":{"type":"rule","color":"#4040c8","strokeWidth":1.2},"encoding":{"x":{"field":"hi","type":"quantitative","title":null,"scale":{"domain":[2314.48,2316.52],"nice":false,"zero":false}}}},
     {"data":{"name":"chan"},"mark":{"type":"rule","color":"#4848c0","strokeWidth":1.2},"encoding":{"x":{"field":"lo","type":"quantitative","title":null,"scale":{"domain":[2314.48,2316.52],"nice":false,"zero":false}},"x2":{"field":"hi"},"y":{"datum":5.2,"type":"quantitative","title":null,"scale":{"domain":[-75,25],"nice":false,"zero":false}}}},
     {"data":{"name":"one"},"mark":{"type":"text","text":"Tx1","color":"#d4d4d4","fontSize":10},"encoding":{"x":{"datum":2315.5,"type":"quantitative","title":null,"scale":{"domain":[2314.48,2316.52],"nice":false,"zero":false}},"y":{"datum":2.6,"type":"quantitative","title":null,"scale":{"domain":[-75,25],"nice":false,"zero":false}}}},
     {"data":{"name":"traceR"},"mark":{"type":"line","color":"#4b50b4","strokeWidth":1.2,"clip":true},"encoding":{"x":{"field":"f","type":"quantitative","title":null,"scale":{"domain":[2314.48,2316.52],"nice":false,"zero":false}},"y":{"field":"p","type":"quantitative","title":null,"scale":{"domain":[-75,25],"nice":false,"zero":false}}}}
    ]},
    {"width":2,"height":344,"data":{"name":"none"},"mark":{"type":"text","text":""}}
   ]},
   {"spacing":0,"hconcat":[
    {"width":3,"height":16,"data":{"name":"none"},"mark":{"type":"text","text":""}},
    {"width":691,"height":14,"view":{"stroke":"#000","strokeWidth":1},"data":{"values":[{"p":"L","t":"CF 2.3155 GHz"},{"p":"C","t":"691 pts"},{"p":"R","t":"Span 2.04 MHz"}]},"encoding":{"x":{"field":"p","type":"nominal","scale":{"type":"point","domain":["L","C","R"],"padding":0.018,"align":0.25},"axis":null},"text":{"field":"t"}},"layer":[{"transform":[{"filter":"datum.p==='L'"}],"mark":{"type":"text","align":"left","fontWeight":"bold"}},{"transform":[{"filter":"datum.p==='C'"}],"mark":{"type":"text","align":"center","fontWeight":"bold"}},{"transform":[{"filter":"datum.p==='R'"}],"mark":{"type":"text","align":"right","fontWeight":"bold"}}]},
    {"width":2,"height":16,"data":{"name":"none"},"mark":{"type":"text","text":""}}
   ]},
   {"width":696,"height":45,"view":{"stroke":"#000","strokeWidth":1,"cornerRadius":4},"data":{"name":"cp"},"encoding":{"x":{"datum":"L","type":"nominal","scale":{"type":"point","domain":["L","R"],"padding":0.0014},"axis":null},"y":{"field":"line","type":"nominal","title":null,"scale":{"type":"point","domain":["title","vals"],"padding":0.5,"align":0.33},"axis":null},"text":{"field":"t"}},"layer":[
    {"transform":[{"filter":"datum.k==='title'"}],"mark":{"type":"text","align":"left","fontWeight":"bold","fontSize":11.5}},
    {"transform":[{"filter":"datum.k==='bw'"}],"mark":{"type":"text","align":"left","dx":30,"font":"Noto Sans","fontSize":15}},
    {"transform":[{"filter":"datum.k==='pw'"}],"mark":{"type":"text","align":"left","dx":289,"font":"Noto Sans","fontSize":15}},
    {"transform":[{"filter":"datum.k==='tx'"}],"mark":{"type":"text","align":"left","dx":507,"font":"Noto Sans","fontSize":15}}
   ]},
   {"spacing":0,"hconcat":[
    {"width":85,"height":20,"data":{"name":"none"},"view":{"stroke":"#8c8c8c","strokeWidth":1,"cornerRadius":5,"fill":"#fff"},"mark":{"type":"text","text":""}},
    {"width":6,"height":22,"data":{"name":"none"},"mark":{"type":"text","text":""}},
    {"width":327,"height":20,"data":{"name":"none"},"view":{"stroke":"#8c8c8c","strokeWidth":1,"cornerRadius":5,"fill":"#fff"},"mark":{"type":"text","text":""}},
    {"width":39,"height":22,"data":{"name":"none"},"view":{"fill":"#dadada"},"mark":{"type":"text","text":""}},
    {"width":34,"height":22,"data":{"values":[{"t":"Ready"}]},"view":{"fill":"#dadada"},"mark":{"type":"text","color":"#f4f4f4","fontSize":10.5},"encoding":{"text":{"field":"t"}}},
    {"width":37,"height":22,"data":{"name":"none"},"view":{"fill":"#dadada"},"mark":{"type":"text","text":""}},
    {"width":72,"height":22,"data":{"name":"seg"},"view":{"fill":"#dadada"},"mark":{"type":"rect","color":"#1f80e8"},"encoding":{"x":{"field":"s","type":"ordinal","title":null,"scale":{"type":"band","paddingInner":0.22,"paddingOuter":0},"axis":null},"y":{"datum":"bar","type":"nominal","title":null,"scale":{"type":"band","domain":["bar"],"paddingOuter":0.45},"axis":null}}},
    {"width":6,"height":22,"data":{"name":"none"},"view":{"fill":"#dadada"},"mark":{"type":"text","text":""}},
    {"width":22,"height":22,"data":{"values":[{"t":"4/4"}]},"view":{"fill":"#dadada"},"mark":{"type":"text","color":"#606060","fontWeight":"bold","fontStyle":"italic","fontSize":10},"encoding":{"text":{"field":"t"}}},
    {"width":66,"height":22,"data":{"name":"none"},"view":{"fill":"#dadada"},"mark":{"type":"text","text":""}}
   ]},
   {"width":698,"height":40,"data":{"values":[{"p":"L","t":"Date: 15.MAR.2023\u00a0\u00a022:47:27"}]},"mark":{"type":"text","align":"left","font":"Liberation Mono","fontSize":11.5,"color":"#777777"},"encoding":{"x":{"field":"p","type":"nominal","scale":{"type":"point","domain":["L","R"],"padding":0},"axis":null},"text":{"field":"t"}}},
   {"width":698,"height":78,"data":{"name":"none"},"mark":{"type":"text","text":""}}
  ]},
  {"width":7,"height":722,"data":{"name":"none"},"mark":{"type":"text","text":""}}
 ]},
 {"width":3,"height":722,"data":{"name":"none"},"view":{"fill":"#000"},"mark":{"type":"text","text":""}}
]}
]
}
